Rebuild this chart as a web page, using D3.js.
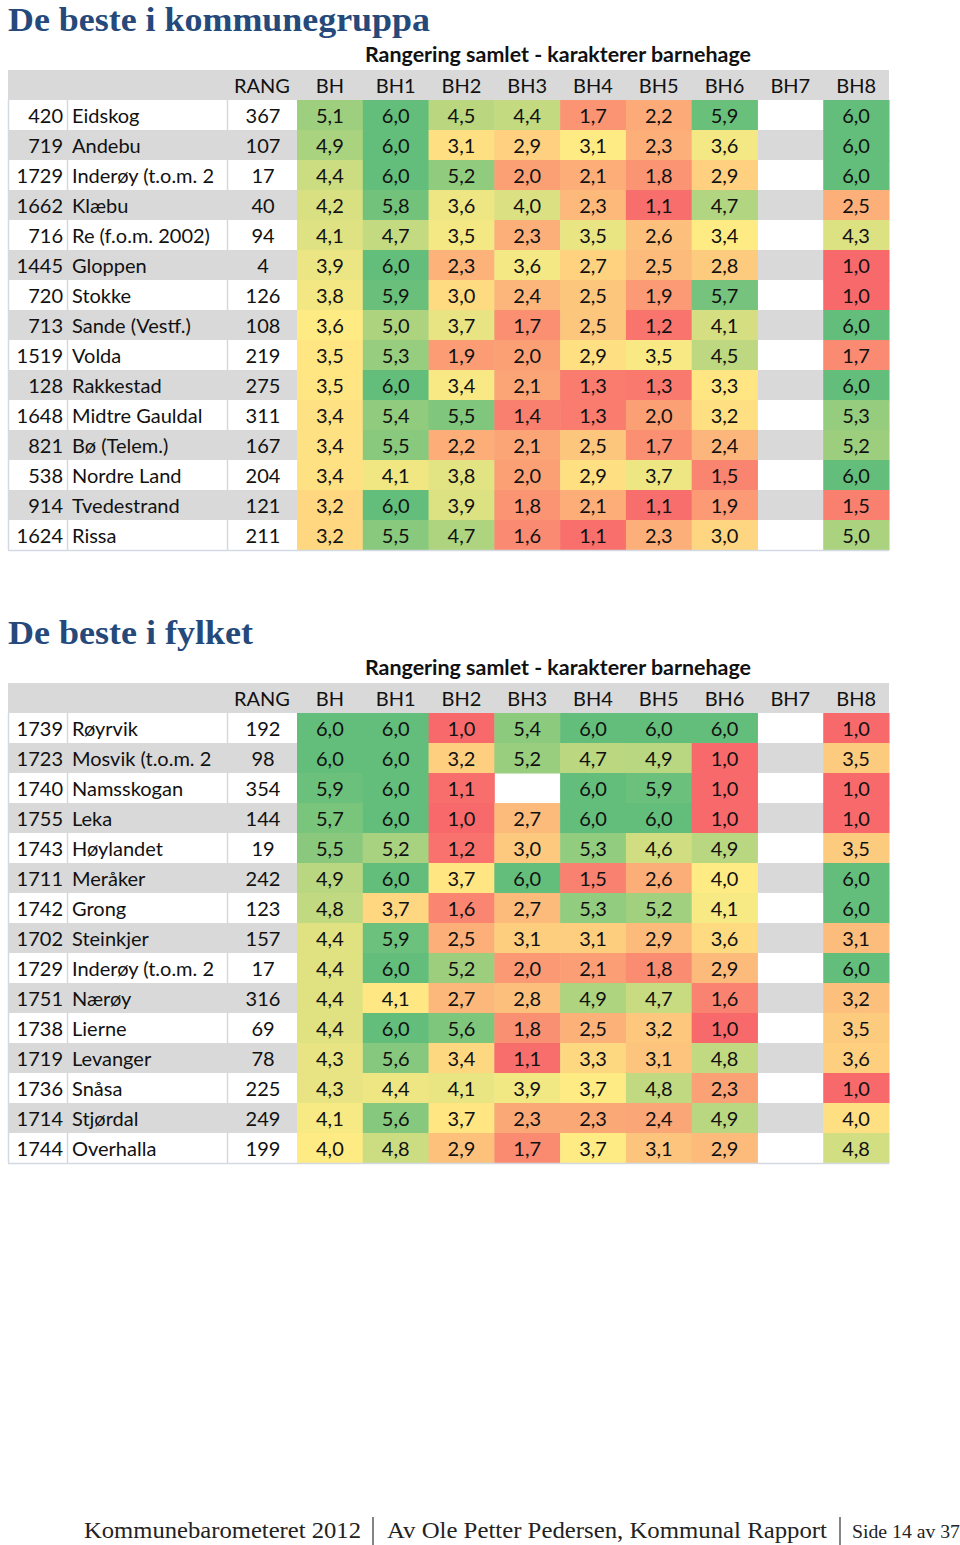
<!DOCTYPE html>
<html><head><meta charset="utf-8">
<script src="https://cdn.jsdelivr.net/npm/d3@7"></script>
<style>body{margin:0;background:#fff} svg{display:block}</style>
</head><body><svg id="c" width="960" height="1545"></svg>
<script>
// ---------- DATA ----------
const columns = ["BH","BH1","BH2","BH3","BH4","BH5","BH6","BH7","BH8"];
const headerLabels = ["RANG"].concat(columns);
const subtitle = "Rangering samlet - karakterer barnehage";

const kommuneTitle = "De beste i kommunegruppa";
const kommuneNr = [420,719,1729,1662,716,1445,720,713,1519,128,1648,821,538,914,1624];
const kommuneNavn = ["Eidskog","Andebu","Inderøy (t.o.m. 2","Klæbu","Re (f.o.m. 2002)","Gloppen","Stokke","Sande (Vestf.)","Volda","Rakkestad","Midtre Gauldal","Bø (Telem.)","Nordre Land","Tvedestrand","Rissa"];
const kommuneRang = [367,107,17,40,94,4,126,108,219,275,311,167,204,121,211];
const kommuneVerdier = [
  [5.1,6.0,4.5,4.4,1.7,2.2,5.9,null,6.0],
  [4.9,6.0,3.1,2.9,3.1,2.3,3.6,null,6.0],
  [4.4,6.0,5.2,2.0,2.1,1.8,2.9,null,6.0],
  [4.2,5.8,3.6,4.0,2.3,1.1,4.7,null,2.5],
  [4.1,4.7,3.5,2.3,3.5,2.6,3.4,null,4.3],
  [3.9,6.0,2.3,3.6,2.7,2.5,2.8,null,1.0],
  [3.8,5.9,3.0,2.4,2.5,1.9,5.7,null,1.0],
  [3.6,5.0,3.7,1.7,2.5,1.2,4.1,null,6.0],
  [3.5,5.3,1.9,2.0,2.9,3.5,4.5,null,1.7],
  [3.5,6.0,3.4,2.1,1.3,1.3,3.3,null,6.0],
  [3.4,5.4,5.5,1.4,1.3,2.0,3.2,null,5.3],
  [3.4,5.5,2.2,2.1,2.5,1.7,2.4,null,5.2],
  [3.4,4.1,3.8,2.0,2.9,3.7,1.5,null,6.0],
  [3.2,6.0,3.9,1.8,2.1,1.1,1.9,null,1.5],
  [3.2,5.5,4.7,1.6,1.1,2.3,3.0,null,5.0]
];
// colour-scale midpoints (yellow) per column
const kommuneMidpunkt = [3.6,3.9,3.3,3.4,3.1,3.4,3.4,3.5,3.8];

const fylkeTitle = "De beste i fylket";
const fylkeNr = [1739,1723,1740,1755,1743,1711,1742,1702,1729,1751,1738,1719,1736,1714,1744];
const fylkeNavn = ["Røyrvik","Mosvik  (t.o.m. 2","Namsskogan","Leka","Høylandet","Meråker","Grong","Steinkjer","Inderøy (t.o.m. 2","Nærøy","Lierne","Levanger","Snåsa","Stjørdal","Overhalla"];
const fylkeRang = [192,98,354,144,19,242,123,157,17,316,69,78,225,249,199];
const fylkeVerdier = [
  [6.0,6.0,1.0,5.4,6.0,6.0,6.0,null,1.0],
  [6.0,6.0,3.2,5.2,4.7,4.9,1.0,null,3.5],
  [5.9,6.0,1.1,null,6.0,5.9,1.0,null,1.0],
  [5.7,6.0,1.0,2.7,6.0,6.0,1.0,null,1.0],
  [5.5,5.2,1.2,3.0,5.3,4.6,4.9,null,3.5],
  [4.9,6.0,3.7,6.0,1.5,2.6,4.0,null,6.0],
  [4.8,3.7,1.6,2.7,5.3,5.2,4.1,null,6.0],
  [4.4,5.9,2.5,3.1,3.1,2.9,3.6,null,3.1],
  [4.4,6.0,5.2,2.0,2.1,1.8,2.9,null,6.0],
  [4.4,4.1,2.7,2.8,4.9,4.7,1.6,null,3.2],
  [4.4,6.0,5.6,1.8,2.5,3.2,1.0,null,3.5],
  [4.3,5.6,3.4,1.1,3.3,3.1,4.8,null,3.6],
  [4.3,4.4,4.1,3.9,3.7,4.8,2.3,null,1.0],
  [4.1,5.6,3.7,2.3,2.3,2.4,4.9,null,4.0],
  [4.0,4.8,2.9,1.7,3.7,3.1,2.9,null,4.8]
];
const fylkeMidpunkt = [4.0,4.2,3.8,3.7,3.7,4.0,4.0,4.0,4.3];

const footerParts = ["Kommunebarometeret 2012","Av Ole Petter Pedersen, Kommunal Rapport","Side 14 av 37"];

// ---------- DRAW ----------
const svg = d3.select("#c");
const fmt = v => d3.format(".1f")(v).replace(".", ",");
const bodyFont = "Lato, 'Open Sans', sans-serif";
const gridCol = "#D3D9E3";
const stripe = "#D9D9D9";

const xCols = d3.scaleBand().domain(columns).range([297, 889]);

function drawTable(top, title, nr, navn, rang, verdier, mid) {
  const g = svg.append("g").attr("transform", `translate(0,${top})`);
  g.append("text").attr("x", 8).attr("y", 31)
    .attr("font-family", "'Liberation Serif', serif").attr("font-weight", "bold")
    .attr("font-size", 34).attr("fill", "#24497A")
    .attr("textLength", title.length > 20 ? 422 : 245).attr("lengthAdjust", "spacingAndGlyphs")
    .text(title);
  g.append("text").attr("x", 558).attr("y", 62).attr("text-anchor", "middle")
    .attr("font-family", bodyFont).attr("font-weight", "bold").attr("font-size", 20.5)
    .attr("fill", "#111").attr("textLength", 386).attr("lengthAdjust", "spacingAndGlyphs")
    .text(subtitle);

  const headerTop = 70, rowH = 30;
  const y = d3.scaleBand().domain(d3.range(nr.length)).range([headerTop + rowH, headerTop + rowH * (nr.length + 1)]);

  // header band
  g.append("rect").attr("x", 8).attr("y", headerTop).attr("width", 881).attr("height", rowH).attr("fill", stripe);
  const hx = d => d === "RANG" ? 262 : xCols(d) + xCols.bandwidth() / 2;
  g.selectAll("text.h").data(headerLabels).join("text").attr("class", "h")
    .attr("x", hx).attr("y", headerTop + rowH / 2 + 1).attr("dy", "0.36em").attr("text-anchor", "middle")
    .attr("font-family", bodyFont).attr("font-size", 20).attr("fill", "#111").text(d => d);

  // stripes
  g.selectAll("rect.s").data(d3.range(nr.length).filter(i => i % 2 === 1)).join("rect").attr("class", "s")
    .attr("x", 8).attr("y", i => y(i)).attr("width", 881).attr("height", y.bandwidth()).attr("fill", stripe);

  // coloured cells
  const scales = columns.map((c, j) => d3.scaleLinear().domain([1, mid[j], 6])
    .range(["#F8696B", "#FFEB84", "#63BE7B"]).interpolate(d3.interpolateRgb).clamp(true));
  const cells = [];
  verdier.forEach((row, i) => row.forEach((v, j) => { if (v !== null) cells.push({ i, j, v }); }));
  g.selectAll("rect.c").data(cells).join("rect").attr("class", "c")
    .attr("x", d => xCols(columns[d.j])).attr("y", d => y(d.i))
    .attr("width", xCols.bandwidth() + 0.5).attr("height", y.bandwidth() + 0.5)
    .attr("fill", d => scales[d.j](d.v));

  // grid lines
  const bodyTop = y(0), bodyBot = y(nr.length - 1) + y.bandwidth();
  [8, 67, 227].forEach(x => g.append("line").attr("x1", x + 0.5).attr("x2", x + 0.5)
    .attr("y1", bodyTop).attr("y2", bodyBot).attr("stroke", gridCol).attr("stroke-width", 1.5));
  g.append("line").attr("x1", 8).attr("x2", 889).attr("y1", bodyBot + 0.5).attr("y2", bodyBot + 0.5)
    .attr("stroke", gridCol).attr("stroke-width", 1.5);

  // texts
  const tAttrs = sel => sel.attr("font-family", bodyFont).attr("font-size", 20).attr("fill", "#111").attr("dy", "0.36em");
  const cy = i => y(i) + y.bandwidth() / 2 + 1;
  g.selectAll("text.nr").data(nr).join("text").attr("class", "nr")
    .attr("x", 63).attr("y", (d, i) => cy(i)).attr("text-anchor", "end").call(tAttrs).text(d => d);
  g.selectAll("text.nv").data(navn).join("text").attr("class", "nv")
    .attr("x", 72).attr("y", (d, i) => cy(i)).call(tAttrs).text(d => d);
  g.selectAll("text.rg").data(rang).join("text").attr("class", "rg")
    .attr("x", 263).attr("y", (d, i) => cy(i)).attr("text-anchor", "middle").call(tAttrs).text(d => d);
  g.selectAll("text.v").data(cells).join("text").attr("class", "v")
    .attr("x", d => xCols(columns[d.j]) + xCols.bandwidth() / 2).attr("y", d => cy(d.i))
    .attr("text-anchor", "middle").call(tAttrs).text(d => fmt(d.v));
}

drawTable(0, kommuneTitle, kommuneNr, kommuneNavn, kommuneRang, kommuneVerdier, kommuneMidpunkt);
drawTable(613, fylkeTitle, fylkeNr, fylkeNavn, fylkeRang, fylkeVerdier, fylkeMidpunkt);

// footer
const fg = svg.append("g").attr("font-family", "'Liberation Serif', serif").attr("fill", "#222");
fg.append("text").attr("x", 84).attr("y", 1538).attr("font-size", 24).attr("textLength", 277).attr("lengthAdjust", "spacingAndGlyphs").text(footerParts[0]);
fg.append("text").attr("x", 387).attr("y", 1538).attr("font-size", 24).attr("textLength", 440).attr("lengthAdjust", "spacingAndGlyphs").text(footerParts[1]);
fg.append("text").attr("x", 852).attr("y", 1538).attr("font-size", 19).attr("textLength", 108).attr("lengthAdjust", "spacingAndGlyphs").text(footerParts[2]);
[373, 840].forEach(x => fg.append("line").attr("x1", x).attr("x2", x).attr("y1", 1517).attr("y2", 1545).attr("stroke", "#333").attr("stroke-width", 1.2));
</script></body></html>
